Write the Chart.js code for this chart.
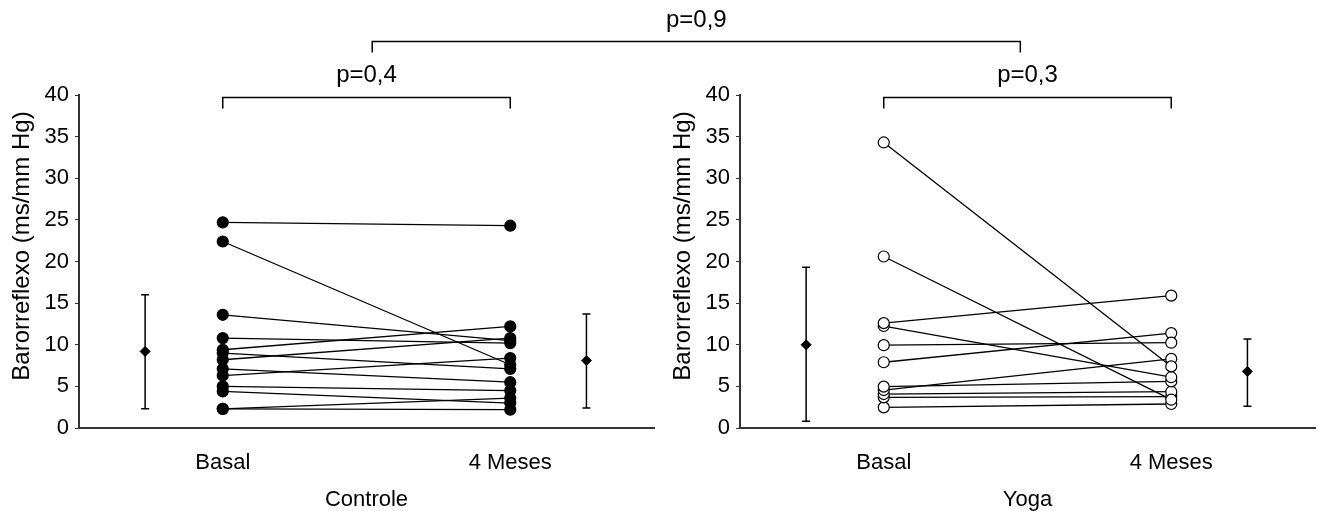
<!DOCTYPE html>
<html>
<head>
<meta charset="utf-8">
<script src="https://cdn.jsdelivr.net/npm/chart.js@4.4.1/dist/chart.umd.min.js"></script>
<style>
  body { margin: 0; background: #fff; }
  #wrap { display: flex; width: 1322px; height: 511px; }
  canvas { display: block; }
</style>
</head>
<body>
<div id="wrap">
  <canvas id="controleChart" width="661" height="511"></canvas>
  <canvas id="yogaChart" width="661" height="511"></canvas>
</div>
<script>
// Data
const timeLabels = ["Basal", "4 Meses"];
const groupNames = ["Controle", "Yoga"];
const yTitle = "Barorreflexo (ms/mm Hg)";
const pValues = ["p=0,4", "p=0,3", "p=0,9"];

const controleBasal = [24.7, 22.4, 13.6, 10.8, 9.4, 9.0, 8.2, 7.1, 6.3, 5.0, 4.4, 2.3, 2.3];
const controleMeses = [24.3, 7.6, 10.5, 10.2, 12.2, 7.1, 10.8, 5.5, 8.4, 4.5, 3.0, 3.6, 2.2];
const controleMedia = [9.2, 8.1];
const controleSup = [16.0, 13.7];
const controleInf = [2.3, 2.4];

const yogaBasal = [34.3, 20.6, 12.6, 12.25, 9.95, 7.9, 4.97, 4.56, 4.08, 3.68, 2.48];
const yogaMeses = [7.4, 3.4, 15.9, 6.1, 10.25, 11.4, 5.6, 8.3, 4.36, 3.76, 2.88];
const yogaMedia = [10.0, 6.8];
const yogaSup = [19.3, 10.7];
const yogaInf = [0.8, 2.6];

// x positions on the linear axis
const X_TIME = [1, 3];
const X_MEAN = [0.46, 3.53];

const FAMILY = "'Liberation Sans', Arial, sans-serif";
const FONT = { family: FAMILY, size: 22 };
const BIG = 24;
const AXIS_COLOR = "#333";

function buildDatasets(basal, meses, media, filled) {
  const sets = basal.map((b, i) => ({
    data: [{ x: X_TIME[0], y: b }, { x: X_TIME[1], y: meses[i] }],
    borderColor: "#000",
    borderWidth: 1.3,
    pointRadius: 5.5,
    pointBorderWidth: 1.2,
    pointBorderColor: "#000",
    pointBackgroundColor: filled ? "#000" : "#fff",
    showLine: true,
    clip: false
  }));
  sets.push({
    data: media.map((m, i) => ({ x: X_MEAN[i], y: m })),
    showLine: false,
    pointStyle: "rectRot",
    pointRadius: 5,
    pointBackgroundColor: "#000",
    pointBorderColor: "#000",
    clip: false
  });
  return sets;
}

// error bars, brackets, y title
function makeDecor(media, sup, inf, pText, side) {
  return {
    id: "decor" + side,
    afterDatasetsDraw(chart) {
      const { ctx, scales: { x, y } } = chart;
      ctx.save();
      ctx.strokeStyle = "#000";
      ctx.lineWidth = 1.5;
      media.forEach((m, i) => {
        const px = x.getPixelForValue(X_MEAN[i]);
        const top = y.getPixelForValue(sup[i]);
        const bot = y.getPixelForValue(inf[i]);
        ctx.beginPath();
        ctx.moveTo(px, top); ctx.lineTo(px, bot);
        ctx.moveTo(px - 4, top); ctx.lineTo(px + 4, top);
        ctx.moveTo(px - 4, bot); ctx.lineTo(px + 4, bot);
        ctx.stroke();
      });
      ctx.restore();
    },
    afterDraw(chart) {
      const { ctx, chartArea, scales: { x } } = chart;
      ctx.save();
      ctx.strokeStyle = "#000";
      ctx.fillStyle = "#000";
      ctx.lineWidth = 1.5;
      ctx.font = BIG + "px " + FAMILY;
      ctx.textAlign = "center";
      ctx.textBaseline = "middle";

      // group bracket
      const x1 = x.getPixelForValue(X_TIME[0]);
      const x2 = x.getPixelForValue(X_TIME[1]);
      const by = chartArea.top + 2.5;
      ctx.beginPath();
      ctx.moveTo(x1, by + 11); ctx.lineTo(x1, by); ctx.lineTo(x2, by); ctx.lineTo(x2, by + 11);
      ctx.stroke();
      ctx.fillText(pText, (x1 + x2) / 2, by - 22);

      // top bracket across both panels
      const ty = 41.5;
      const w = chart.width;
      const leftEnd = x.getPixelForValue(2.04);
      const rightEnd = x.getPixelForValue(1.95);
      ctx.beginPath();
      if (side === "left") {
        ctx.moveTo(leftEnd, ty + 11); ctx.lineTo(leftEnd, ty); ctx.lineTo(w, ty);
      } else {
        ctx.moveTo(0, ty); ctx.lineTo(rightEnd, ty); ctx.lineTo(rightEnd, ty + 11);
        ctx.fillText(pValues[2], (leftEnd + w + rightEnd) / 2 - w, 20);
      }
      ctx.stroke();

      // y axis title
      ctx.translate(22, 246);
      ctx.rotate(-Math.PI / 2);
      ctx.fillText(yTitle, 0, 0);
      ctx.restore();
    }
  };
}

function makeChart(canvasId, basal, meses, media, sup, inf, filled, group, pText, side) {
  return new Chart(document.getElementById(canvasId), {
    type: "scatter",
    data: { datasets: buildDatasets(basal, meses, media, filled) },
    options: {
      responsive: false,
      animation: false,
      events: [],
      layout: { padding: { top: 95, right: 7, left: 0, bottom: 0 } },
      plugins: { legend: { display: false }, tooltip: { enabled: false } },
      scales: {
        x: {
          type: "linear",
          min: 0,
          max: 4,
          afterBuildTicks: s => { s.ticks = X_TIME.map(v => ({ value: v })); },
          afterFit: s => { s.height = 83; },
          ticks: {
            callback: v => timeLabels[X_TIME.indexOf(v)] || "",
            color: "#000",
            font: FONT,
            padding: 22,
            maxRotation: 0,
            autoSkip: false
          },
          grid: { display: false, drawTicks: false },
          border: { display: true, color: AXIS_COLOR, width: 2 },
          title: { display: true, text: group, color: "#000", font: { family: FAMILY, size: 22, lineHeight: 1.0 }, padding: 0 }
        },
        y: {
          min: 0,
          max: 40,
          afterFit: s => { s.width = 79; },
          ticks: { stepSize: 5, color: "#000", font: FONT, padding: 6 },
          grid: { drawOnChartArea: false, drawTicks: true, tickLength: 4, color: AXIS_COLOR },
          border: { display: true, color: AXIS_COLOR, width: 2 }
        }
      }
    },
    plugins: [makeDecor(media, sup, inf, pText, side)]
  });
}

makeChart("controleChart", controleBasal, controleMeses, controleMedia, controleSup, controleInf,
  true, groupNames[0], pValues[0], "left");
makeChart("yogaChart", yogaBasal, yogaMeses, yogaMedia, yogaSup, yogaInf,
  false, groupNames[1], pValues[1], "right");
</script>
</body>
</html>
